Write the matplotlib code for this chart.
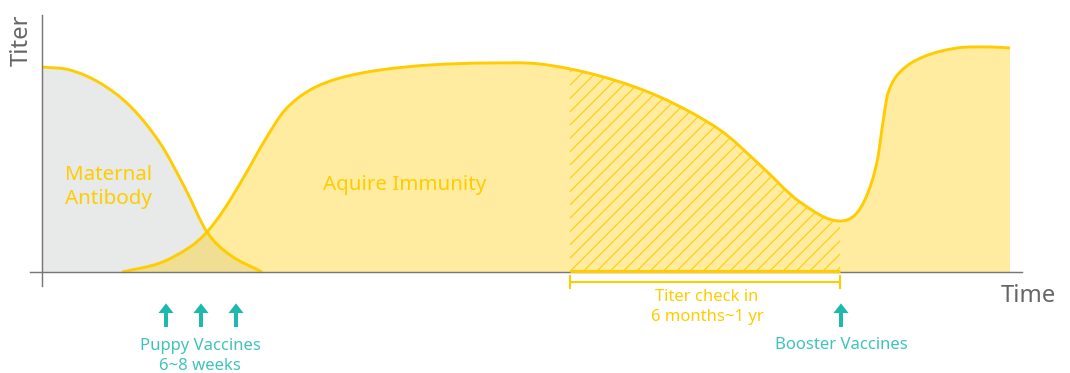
import numpy as np
import matplotlib.pyplot as plt
from matplotlib.path import Path
from matplotlib.patches import PathPatch
from matplotlib.collections import LineCollection

# ---- data: time (arbitrary units) vs antibody titer ----
maternal_t = [0, 2.8, 5.8, 8.8, 11.8, 14.3, 16.5, 18.8, 22]
maternal_v = [102.5, 101, 94.5, 83, 64.5, 42, 20, 8.5, 0]

immune_t = [8, 11.8, 14.8, 16.5, 18.3, 20.3, 22.3, 24.3, 26.8, 29.8, 33.8, 38.8,
            44.8, 49.8, 55.8, 61.8, 67.8, 71.8, 75.8, 79.8,
            81.3, 82.5, 83.5, 84.1, 84.6, 85.8, 88.1, 91.5, 94.8, 96.8]
immune_v = [0, 4.5, 12.5, 20, 32, 48.5, 66, 81, 91, 97, 101, 103.5,
            104.5, 104, 98, 87.5, 71, 53.5, 35, 25.5,
            28.5, 38.5, 55, 75, 89.5, 100, 107.5, 112, 112.5, 112]

puppy_shots = [12.4, 15.9, 19.4]
booster_shot = 79.9
titer_check = (52.8, 79.8)

YELLOW = '#ffcc00'
TEAL = '#1bb9ae'
TEAL_TXT = '#3fc3bb'
GREY = '#666666'


def slopes(x, y):
    # central differences, flattened at local peaks/troughs
    d = np.diff(y) / np.diff(x)
    m = np.empty_like(y)
    m[0], m[-1] = d[0], d[-1]
    for i in range(1, len(x) - 1):
        if d[i - 1] * d[i] <= 0:
            m[i] = 0.0
        else:
            m[i] = (y[i + 1] - y[i - 1]) / (x[i + 1] - x[i - 1])
    return m


def smooth_path(xs, ys, close_to_base=False):
    """Hermite cubic through the points, written as a Bezier path."""
    x = np.asarray(xs, float)
    y = np.asarray(ys, float)
    m = slopes(x, y)
    verts = [(x[0], y[0])]
    codes = [Path.MOVETO]
    for i in range(len(x) - 1):
        h = x[i + 1] - x[i]
        verts += [(x[i] + h / 3, y[i] + m[i] * h / 3),
                  (x[i + 1] - h / 3, y[i + 1] - m[i + 1] * h / 3),
                  (x[i + 1], y[i + 1])]
        codes += [Path.CURVE4] * 3
    if close_to_base:
        verts += [(x[-1], 0), (x[0], 0), (x[0], y[0])]
        codes += [Path.LINETO, Path.LINETO, Path.CLOSEPOLY]
    return Path(verts, codes)


fig = plt.figure(figsize=(13.375, 4.6625), dpi=80)
ax = fig.add_axes([0, 0, 1, 1])
ax.set_xlim(-4.2, 102.8)
ax.set_ylim(-50.5, 136)
plt.rcParams['font.family'] = ['Noto Sans', 'DejaVu Sans']

for side in ['top', 'right']:
    ax.spines[side].set_visible(False)
ax.spines['bottom'].set_position(('data', 0))
ax.spines['left'].set_position(('data', 0))
ax.spines['bottom'].set_bounds(-1.2, 98)
ax.spines['left'].set_bounds(-7, 128.5)
for side in ['bottom', 'left']:
    ax.spines[side].set_color('#777777')
    ax.spines[side].set_linewidth(1.3)
    ax.spines[side].set_zorder(6)
ax.set_xticks([])
ax.set_yticks([])
ax.patch.set_visible(False)

# maternal antibody area
ax.add_patch(PathPatch(smooth_path(maternal_t, maternal_v, True),
                       facecolor='#e8e9e9', edgecolor='none', zorder=1))
# acquired immunity area (semi-transparent so the overlap darkens)
immune_fill = PathPatch(smooth_path(immune_t, immune_v, True),
                        facecolor=YELLOW, alpha=0.37, edgecolor='none', zorder=2)
ax.add_patch(immune_fill)

# diagonal hatching over the titer-check window, clipped to the area
segs = []
for t0 in np.arange(titer_check[0] - 24, titer_check[1], 1.33):
    lo = max(0, (titer_check[0] - t0) * 5)
    hi = min(120, (titer_check[1] - t0) * 5)
    if hi > lo:
        segs.append([(t0 + lo / 5, lo), (t0 + hi / 5, hi)])
hatch = LineCollection(segs, colors=YELLOW, linewidths=1.0, zorder=3)
ax.add_collection(hatch)
hatch.set_clip_path(immune_fill)

ax.add_patch(PathPatch(smooth_path(maternal_t, maternal_v), facecolor='none',
                       edgecolor=YELLOW, linewidth=2.6, zorder=4))
ax.add_patch(PathPatch(smooth_path(immune_t, immune_v), facecolor='none',
                       edgecolor=YELLOW, linewidth=2.6, zorder=4))

# titer-check bracket
ax.plot(titer_check, [0.6, 0.6], color=YELLOW, lw=2.8, zorder=7,
        solid_capstyle='butt')
ax.plot(titer_check, [-5, -5], color=YELLOW, lw=1.9, zorder=7)
for t in titer_check:
    ax.plot([t, t], [-2, -8], color=YELLOW, lw=1.9, zorder=7)

# vaccine arrows
for t in puppy_shots + [booster_shot]:
    ax.arrow(t, -27.5, 0, 7, width=0.4, head_width=1.5, head_length=4.8,
             length_includes_head=False, color=TEAL, lw=0, zorder=7)

ax.text(2.3, 42.5, 'Maternal\nAntibody', color=YELLOW, fontsize=18.5,
        ha='left', va='center', linespacing=1.25, zorder=8)
ax.text(28.1, 43.5, 'Aquire Immunity', color=YELLOW, fontsize=18.5,
        ha='left', va='center', zorder=8)
ax.text(66.5, -17.5, 'Titer check in\n6 months~1 yr', color=YELLOW,
        fontsize=15, ha='center', va='center', linespacing=1.32)
ax.text(15.8, -41.8, 'Puppy Vaccines\n6~8 weeks', color=TEAL_TXT,
        fontsize=15, ha='center', va='center', linespacing=1.32)
ax.text(booster_shot, -36.5, 'Booster Vaccines', color=TEAL_TXT,
        fontsize=15, ha='center', va='center')
ax.text(98.6, -12, 'Time', color=GREY, fontsize=21.5, ha='center', va='center')
ax.text(-2.0, 116, 'Titer', color=GREY, fontsize=21.5, ha='center',
        va='center', rotation=90)

fig.savefig('out.png', dpi=80)
